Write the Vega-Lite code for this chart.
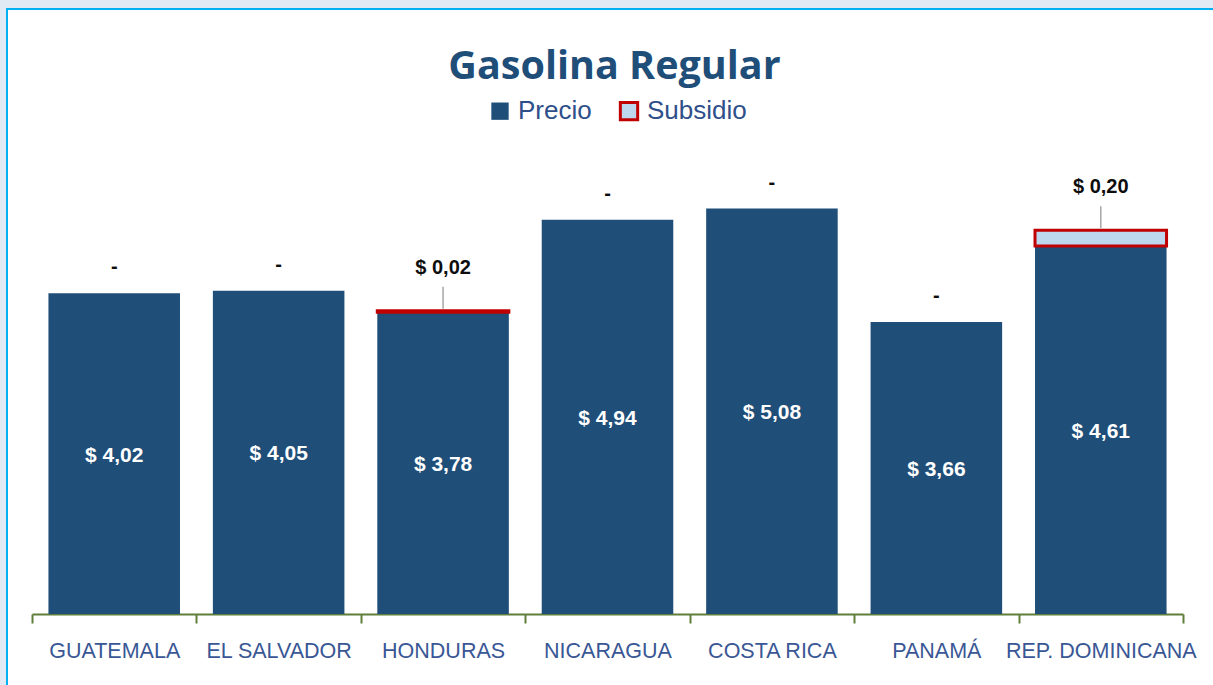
{
  "$schema": "https://vega.github.io/schema/vega-lite/v6.json",
  "autosize": {"type": "none"},
  "padding": {"left": 7, "top": 9, "right": 0, "bottom": 0},
  "width": 1215,
  "height": 685,
  "background": "#dfeaf5",
  "title": {
    "text": "Gasolina Regular",
    "frame": "group",
    "anchor": "middle",
    "offset": -78,
    "font": "Open Sans",
    "fontSize": 39.5,
    "fontWeight": "bold",
    "color": "#1f4e79"
  },
  "data": {
    "values": [
      {"pais": "GUATEMALA", "serie": "Precio", "valor": 4.02},
      {"pais": "EL SALVADOR", "serie": "Precio", "valor": 4.05},
      {"pais": "HONDURAS", "serie": "Precio", "valor": 3.78},
      {"pais": "NICARAGUA", "serie": "Precio", "valor": 4.94},
      {"pais": "COSTA RICA", "serie": "Precio", "valor": 5.08},
      {"pais": "PANAMÁ", "serie": "Precio", "valor": 3.66},
      {"pais": "REP. DOMINICANA", "serie": "Precio", "valor": 4.61},
      {"pais": "GUATEMALA", "serie": "Subsidio", "valor": 0},
      {"pais": "EL SALVADOR", "serie": "Subsidio", "valor": 0},
      {"pais": "HONDURAS", "serie": "Subsidio", "valor": 0.02},
      {"pais": "NICARAGUA", "serie": "Subsidio", "valor": 0},
      {"pais": "COSTA RICA", "serie": "Subsidio", "valor": 0},
      {"pais": "PANAMÁ", "serie": "Subsidio", "valor": 0},
      {"pais": "REP. DOMINICANA", "serie": "Subsidio", "valor": 0.2}
    ]
  },
  "transform": [
    {"stack": "valor", "groupby": ["pais"], "sort": [{"field": "serie", "order": "ascending"}], "as": ["v0", "v1"]}
  ],
  "encoding": {
    "x": {
      "field": "pais",
      "type": "nominal",
      "sort": ["GUATEMALA", "EL SALVADOR", "HONDURAS", "NICARAGUA", "COSTA RICA", "PANAMÁ", "REP. DOMINICANA"],
      "scale": {"range": [25, 1176], "paddingInner": 0, "paddingOuter": 0},
      "axis": {
        "orient": "bottom",
        "offset": -80,
        "title": null,
        "grid": false,
        "labelAngle": 0,
        "labelLimit": 400,
        "domainColor": "#5e7e3a",
        "domainWidth": 2,
        "tickColor": "#5e7e3a",
        "tickWidth": 2,
        "tickSize": 9,
        "tickBand": "extent",
        "labelFont": "Liberation Sans",
        "labelFontSize": 21.5,
        "labelColor": "#3a5795",
        "labelPadding": 17
      }
    }
  },
  "layer": [
    {
      "transform": [{"filter": "datum.valor > 0"}],
      "mark": {"type": "bar", "width": {"band": 0.8}, "strokeWidth": 3},
      "encoding": {
        "y": {"field": "v1", "type": "quantitative", "scale": {"domain": [0, 6], "range": [605, 126.2]}, "axis": null},
        "y2": {"field": "v0"},
        "fill": {
          "field": "serie",
          "type": "nominal",
          "scale": {"domain": ["Precio", "Subsidio"], "range": ["#1f4e79", "#bdd7ee"]},
          "legend": {"orient": "none", "legendX": 480, "legendY": 89, "direction": "horizontal", "title": null}
        },
        "stroke": {
          "field": "serie",
          "type": "nominal",
          "scale": {"domain": ["Precio", "Subsidio"], "range": ["transparent", "#c00000"]},
          "legend": {"orient": "none", "legendX": 480, "legendY": 89, "direction": "horizontal", "title": null}
        }
      }
    },
    {
      "transform": [{"filter": "datum.serie == 'Precio'"}],
      "mark": {"type": "text", "font": "Liberation Sans", "fontSize": 21, "fontWeight": "bold", "color": "white", "baseline": "middle", "dy": 2},
      "encoding": {
        "y": {"field": "v1", "type": "quantitative", "scale": {"domain": [0, 12], "range": [605, 126.2]}, "axis": null},
        "text": {"field": "valor", "type": "quantitative", "format": "$.2f"}
      }
    },
    {
      "transform": [{"filter": "datum.serie == 'Subsidio' && datum.valor == 0"}],
      "mark": {"type": "text", "font": "Liberation Sans", "fontSize": 20, "fontWeight": "bold", "color": "#0d0d0d", "baseline": "alphabetic", "dy": -20, "text": "-"},
      "encoding": {
        "y": {"field": "v1", "type": "quantitative", "scale": {"domain": [0, 6], "range": [605, 126.2]}, "axis": null}
      }
    },
    {
      "transform": [{"filter": "datum.serie == 'Subsidio' && datum.valor > 0"}],
      "mark": {"type": "text", "font": "Liberation Sans", "fontSize": 20, "fontWeight": "bold", "color": "#0d0d0d", "baseline": "alphabetic", "dy": -37},
      "encoding": {
        "y": {"field": "v1", "type": "quantitative", "scale": {"domain": [0, 6], "range": [605, 126.2]}, "axis": null},
        "text": {"field": "valor", "type": "quantitative", "format": "$.2f"}
      }
    },
    {
      "transform": [{"filter": "datum.serie == 'Subsidio' && datum.valor > 0"}],
      "mark": {"type": "rule", "color": "#a6a6a6", "strokeWidth": 1.5, "yOffset": -2, "y2Offset": -24},
      "encoding": {
        "y": {"field": "v1", "type": "quantitative", "scale": {"domain": [0, 6], "range": [605, 126.2]}, "axis": null},
        "y2": {"field": "v1"}
      }
    }
  ],
  "resolve": {"scale": {"y": "independent"}},
  "config": {
    "locale": {"number": {"decimal": ",", "thousands": ".", "grouping": [3], "currency": ["$ ", ""]}},
    "view": {"stroke": "#00b0f0", "strokeWidth": 2, "fill": "white"},
    "legend": {
      "symbolType": "square",
      "symbolSize": 300,
      "symbolStrokeWidth": 3,
      "labelFont": "Liberation Sans",
      "labelFontSize": 26,
      "labelColor": "#2f4f8a",
      "labelOffset": 5,
      "columnPadding": 22,
      "padding": 0
    }
  }
}
